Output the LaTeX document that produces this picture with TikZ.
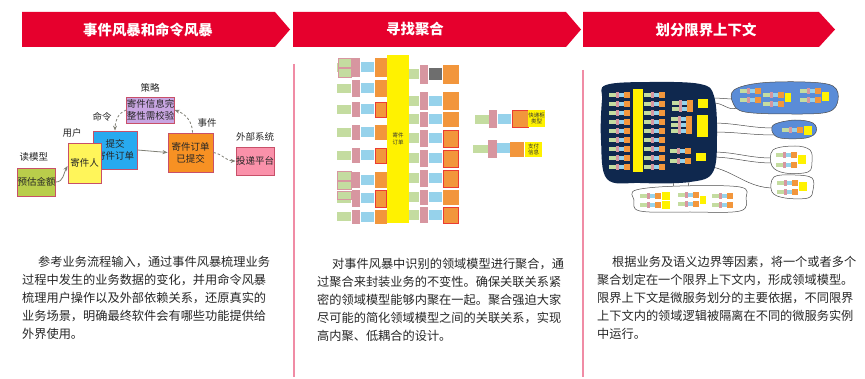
\documentclass[tikz,border=0pt]{standalone}
\usepackage{fontspec}
\setmainfont{Noto Sans CJK SC}
\usetikzlibrary{arrows.meta}
\definecolor{hdr}{RGB}{230,0,45}
\definecolor{divider}{RGB}{240,140,165}
\definecolor{bodytxt}{RGB}{38,38,38}
\definecolor{bxborder}{RGB}{200,80,105}
\definecolor{cgreen}{RGB}{185,205,75}
\definecolor{cyellow}{RGB}{255,245,90}
\definecolor{cblue}{RGB}{40,170,240}
\definecolor{cpurple}{RGB}{200,165,225}
\definecolor{corange}{RGB}{247,145,35}
\definecolor{cpink}{RGB}{250,145,170}
\definecolor{arr}{RGB}{128,128,118}
\definecolor{sgreen}{RGB}{196,220,160}
\definecolor{spink}{RGB}{215,150,160}
\definecolor{sblue}{RGB}{150,210,235}
\definecolor{sorange}{RGB}{242,150,60}
\definecolor{sred}{RGB}{235,60,50}
\definecolor{sgray}{RGB}{110,110,110}
\definecolor{navy}{RGB}{15,40,78}
\definecolor{mblue}{RGB}{90,140,215}
\newcommand\sbx[5]{\fill[#1] (#2,#3) rectangle ++(#4,#5);}
\newcommand\grp[2]{%
  \fill[sgreen] (#1,#2+1) rectangle ++(7,4);
  \fill[spink] (#1+7,#2) rectangle ++(3,6);
  \fill[sblue] (#1+10,#2+1) rectangle ++(5,4);
  \fill[sorange] (#1+15,#2) rectangle ++(6,6);}
\tikzset{
  hdrtext/.style={text=white, font=\fontsize{14.4}{16}\selectfont\bfseries, inner sep=0pt},
  ebox/.style={draw=bxborder, line width=0.8pt, font=\fontsize{9.5}{12}\selectfont, text=black!85, inner sep=0pt, align=center},
  lbl/.style={font=\fontsize{9.5}{12}\selectfont, text=black!85, inner sep=0pt},
  conn/.style={draw=arr, line width=0.8pt, -{Stealth[length=5pt,width=4pt]}},
  dconn/.style={conn, dash pattern=on 2.5pt off 2pt},
  body/.style={font=\fontsize{12.2}{18}\selectfont, text=bodytxt, anchor=base west, inner sep=0pt},
  tiny/.style={font=\fontsize{5.5}{6.5}\selectfont, text=black!80, inner sep=0pt, align=center},
  blobline/.style={draw=gray!60!black, line width=0.5pt}
}
\begin{document}
\begin{tikzpicture}[x=1pt,y=-1pt]
\path[use as bounding box] (0,0) rectangle (865,379);
% headers
\fill[hdr] (22,12) -- (275,12) -- (290,29.5) -- (275,47) -- (22,47) -- cycle;
\fill[hdr] (293,12) -- (566,12) -- (581,29.5) -- (566,47) -- (293,47) -- cycle;
\fill[hdr] (583,12) -- (819,12) -- (835,29.5) -- (819,47) -- (583,47) -- cycle;
\node[hdrtext] (h1) at (148,29.5) {事件风暴和命令风暴};
\node[hdrtext] (h2) at (415,29.5) {寻找聚合};
\node[hdrtext] (h3) at (706,29.5) {划分限界上下文};
% dividers
\draw[divider, line width=1.5pt] (294,64) -- (294,377);
\draw[divider, line width=1.5pt] (583,70) -- (583,377);
% column 1 diagram
\node[ebox, fill=cblue, minimum width=44pt, minimum height=38pt] (cmd) at (115,150) {提交\\寄件订单};
\node[ebox, fill=cyellow, minimum width=33pt, minimum height=40pt] (user) at (84.5,163) {寄件人};
\node[ebox, fill=cgreen, minimum width=37pt, minimum height=28pt] (read) at (36.5,182) {预估金额};
\node[ebox, fill=cpurple, minimum width=47pt, minimum height=26pt] (policy) at (150.5,110) {寄件信息完\\整性需校验};
\node[ebox, fill=corange, minimum width=45pt, minimum height=39pt] (event) at (190.5,152.5) {寄件订单\\已提交};
\node[ebox, fill=cpink, minimum width=36pt, minimum height=28pt] (ext) at (255,161) {投递平台};
\node[lbl] (l1) at (34,157) {读模型};
\node[lbl] (l2) at (72,133) {用户};
\node[lbl] (l3) at (102,117) {命令};
\node[lbl] (l4) at (150,88) {策略};
\node[lbl] (l5) at (207,123) {事件};
\node[lbl] (l6) at (255,137) {外部系统};
\draw[conn] (read.east) to[out=0, in=240] ([yshift=-3pt]user.west);
\draw[conn] (cmd.east) -- (event.west);
\draw[dconn] ([xshift=2pt]event.north) to[out=90, in=-20] (policy.east);
\draw[dconn] (policy.west) to[out=200, in=90] (cmd.north);
\draw[dconn] (event.east) to[out=-10, in=180] (ext.west);
% column 2 image
\foreach \t/\b [count=\i] in {58/77,80/97,102/117,125/140,148/163,172/188,190/207,210/224} {
  \pgfmathsetmacro\m{(\t+\b)/2}
  \fill[sgreen] (337,\m-4.5) rectangle (351,\m+4.5);
  \fill[spink] (352,\t) rectangle (360,\b);
  \fill[sblue] (361,\m-5) rectangle (374,\m+5);
  \fill[sorange] (375,\t) rectangle (387,\b);
}
\foreach \t/\b in {102/117,148/163,190/207} {\draw[sred, line width=0.8pt] (375.4,\t) rectangle (386.6,\b);}
\draw[spink, fill=sgreen] (338,58) rectangle (351,67);
\draw[spink, fill=sgreen] (338,68) rectangle (351,77);
\draw[spink, fill=sgreen] (337,171) rectangle (351,180);
\draw[spink, fill=sgreen] (337,181) rectangle (351,189);
\draw[spink, fill=sgreen] (337,191) rectangle (351,199);
\foreach \t/\b [count=\i] in {65/84,92/110,112/127,130/147,150/167,170/187,190/205,207/223} {
  \pgfmathsetmacro\m{(\t+\b)/2}
  \fill[sgreen] (408,\m-5) rectangle (419,\m+5);
  \fill[spink] (420,\t) rectangle (428,\b);
  \fill[sblue] (429,\m-5) rectangle (442,\m+5);
  \fill[sorange] (443,\t) rectangle (459,\b);
}
\fill[sgray] (429,68) rectangle (442,80);
\foreach \t/\b in {130/147,150/167,170/187,207/223} {\draw[sred, line width=0.8pt] (443.4,\t) rectangle (458.6,\b);}
\node[fill=yellow, minimum width=22pt, minimum height=168pt, tiny] (ybar) at (398,139) {寄件\\订单};
% far right groups
\sbx{sgreen}{475}{115}{14}{9}
\sbx{spink}{489}{110}{8}{18}
\sbx{sblue}{498}{114}{13}{10}
\fill[sorange, draw=sred, line width=0.8pt] (512,110) rectangle (528,127);
\node[fill=yellow, minimum width=17pt, minimum height=17pt, tiny] (g1) at (536.5,118.5) {快递柜\\类型};
\sbx{sgreen}{473}{145}{15}{8}
\sbx{spink}{488}{140}{9}{18}
\sbx{sblue}{497}{143}{13}{10}
\sbx{sorange}{510}{142}{14}{15}
\node[fill=yellow, minimum width=17pt, minimum height=15pt, tiny] (g2) at (533.5,149.5) {支付\\信息};
% column 3 image: connectors
\draw[blobline] (712,98) to[out=0,in=180] (735,99);
\draw[blobline] (714,103) to[out=0,in=200] (737,108);
\draw[blobline] (712,123) to[out=0,in=180] (774,128);
\draw[blobline] (713,132) to[out=0,in=180] (775,135);
\draw[blobline] (712,152) to[out=0,in=180] (772,158);
\draw[blobline] (710,157) to[out=0,in=180] (773,163);
\draw[blobline] (708,166) to[out=-10,in=180] (774,188);
\draw[blobline] (675,175) -- (673,188);
\draw[blobline] (690,175) -- (688,188);
% navy blob
\fill[navy] plot[smooth cycle, tension=0.6] coordinates {(606,85) (650,82) (700,84) (714,96) (717,135) (713,172) (690,182) (640,183) (607,179) (601,140) (602,100)};
\fill[yellow] (633,89) rectangle (643,172);
\foreach \r in {0,...,8} {\grp{609}{92+\r*9}}
\foreach \r in {0,...,8} {\grp{644}{92+\r*9}}
\grp{672}{100}\grp{672}{106}
\sbx{yellow}{698}{99}{10}{9}
\grp{671}{116}\grp{671}{122}\grp{671}{128}
\sbx{yellow}{697}{115}{11}{22}
\grp{670}{148}\grp{670}{158}
\sbx{yellow}{696}{153}{10}{8}
% top blue blob
\filldraw[fill=mblue, blobline] plot[smooth cycle, tension=0.6] coordinates {(734,90) (760,83) (805,82) (833,86) (838,100) (828,112) (790,114) (745,112) (733,103)};
\grp{740}{88}\grp{740}{97}\grp{763}{92}\grp{763}{101}
\sbx{yellow}{785}{93}{6}{9}
\grp{800}{88}\grp{800}{97}
\sbx{yellow}{822}{92}{7}{9}
% mid blue blob
\filldraw[fill=mblue, blobline] plot[smooth cycle, tension=0.6] coordinates {(775,124) (795,120) (813,123) (816,132) (806,138) (780,138) (772,131)};
\grp{782}{127}
\sbx{yellow}{804}{126}{8}{9}
% white blobs
\filldraw[fill=white, blobline] plot[smooth cycle, tension=0.6] coordinates {(773,150) (795,146) (810,150) (812,162) (808,172) (785,173) (772,166)};
\grp{776}{152}\grp{776}{162}
\sbx{yellow}{798}{155}{8}{9}
\filldraw[fill=white, blobline] plot[smooth cycle, tension=0.6] coordinates {(774,177) (795,175) (812,178) (813,190) (808,198) (785,198) (772,192)};
\grp{777}{180}\grp{777}{189}
\sbx{yellow}{799}{182}{8}{9}
\filldraw[fill=white, blobline] plot[smooth cycle, tension=0.6] coordinates {(636,190) (680,186) (740,187) (746,198) (740,211) (690,212) (640,211) (634,200)};
\grp{640}{193}\grp{640}{202}
\sbx{yellow}{662}{192}{8}{8}
\sbx{yellow}{662}{201}{8}{8}
\grp{678}{192}\grp{678}{201}
\sbx{yellow}{700}{196}{6}{8}
\grp{712}{193}\grp{712}{202}
% body texts
\node[body] (a1) at (38,266.5) {参考业务流程输入，通过事件风暴梳理业务};
\node[body] (a2) at (22,284.5) {过程中发生的业务数据的变化，并用命令风暴};
\node[body] (a3) at (22,302.5) {梳理用户操作以及外部依赖关系，还原真实的};
\node[body] (a4) at (22,320.5) {业务场景，明确最终软件会有哪些功能提供给};
\node[body] (a5) at (22,338.5) {外界使用。};
\node[body] (b1) at (332,269) {对事件风暴中识别的领域模型进行聚合，通};
\node[body] (b2) at (317,287) {过聚合来封装业务的不变性。确保关联关系紧};
\node[body] (b3) at (317,305) {密的领域模型能够内聚在一起。聚合强迫大家};
\node[body] (b4) at (317,323) {尽可能的简化领域模型之间的关联关系，实现};
\node[body] (b5) at (317,341) {高内聚、低耦合的设计。};
\node[body] (c1) at (612,266.5) {根据业务及语义边界等因素，将一个或者多个};
\node[body] (c2) at (597,284.5) {聚合划定在一个限界上下文内，形成领域模型。};
\node[body] (c3) at (597,302.5) {限界上下文是微服务划分的主要依据，不同限界};
\node[body] (c4) at (597,320.5) {上下文内的领域逻辑被隔离在不同的微服务实例};
\node[body] (c5) at (597,338.5) {中运行。};
\end{tikzpicture}
\end{document}
